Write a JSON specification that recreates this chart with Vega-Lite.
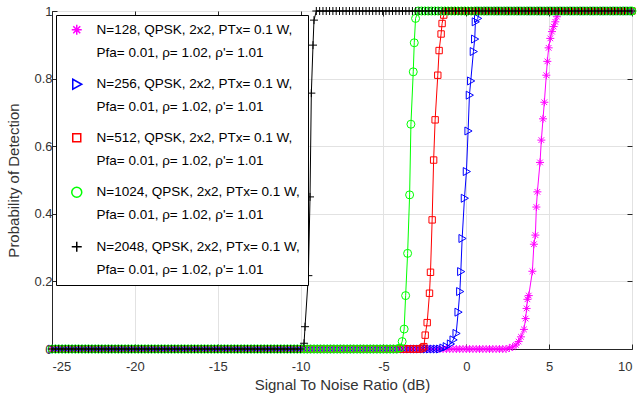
{
"$schema": "https://vega.github.io/schema/vega-lite/v6.json",
"width": 580, "height": 338,
"autosize": {"type": "none"},
"padding": {"left": 52, "top": 11, "right": 6, "bottom": 58},
"background": "white",
"config": {
  "font": "Liberation Sans",
  "view": {"stroke": "#262626", "strokeWidth": 1},
  "axis": {"labelOverlap": false}
},
"data": {"values": [
{"N":128,"x":-25,"y":0},{"N":128,"x":-24.8,"y":0},{"N":128,"x":-24.6,"y":0},{"N":128,"x":-24.4,"y":0},{"N":128,"x":-24.2,"y":0},{"N":128,"x":-24,"y":0},{"N":128,"x":-23.8,"y":0},{"N":128,"x":-23.6,"y":0},{"N":128,"x":-23.4,"y":0},{"N":128,"x":-23.2,"y":0},{"N":128,"x":-23,"y":0},{"N":128,"x":-22.8,"y":0},{"N":128,"x":-22.6,"y":0},{"N":128,"x":-22.4,"y":0},{"N":128,"x":-22.2,"y":0},{"N":128,"x":-22,"y":0},{"N":128,"x":-21.8,"y":0},{"N":128,"x":-21.6,"y":0},{"N":128,"x":-21.4,"y":0},{"N":128,"x":-21.2,"y":0},{"N":128,"x":-21,"y":0},{"N":128,"x":-20.8,"y":0},{"N":128,"x":-20.6,"y":0},{"N":128,"x":-20.4,"y":0},{"N":128,"x":-20.2,"y":0},{"N":128,"x":-20,"y":0},{"N":128,"x":-19.8,"y":0},{"N":128,"x":-19.6,"y":0},{"N":128,"x":-19.4,"y":0},{"N":128,"x":-19.2,"y":0},{"N":128,"x":-19,"y":0},{"N":128,"x":-18.8,"y":0},{"N":128,"x":-18.6,"y":0},{"N":128,"x":-18.4,"y":0},{"N":128,"x":-18.2,"y":0},{"N":128,"x":-18,"y":0},{"N":128,"x":-17.8,"y":0},{"N":128,"x":-17.6,"y":0},{"N":128,"x":-17.4,"y":0},{"N":128,"x":-17.2,"y":0},{"N":128,"x":-17,"y":0},{"N":128,"x":-16.8,"y":0},{"N":128,"x":-16.6,"y":0},{"N":128,"x":-16.4,"y":0},{"N":128,"x":-16.2,"y":0},{"N":128,"x":-16,"y":0},{"N":128,"x":-15.8,"y":0},{"N":128,"x":-15.6,"y":0},{"N":128,"x":-15.4,"y":0},{"N":128,"x":-15.2,"y":0},{"N":128,"x":-15,"y":0},{"N":128,"x":-14.8,"y":0},{"N":128,"x":-14.6,"y":0},{"N":128,"x":-14.4,"y":0},{"N":128,"x":-14.2,"y":0},{"N":128,"x":-14,"y":0},{"N":128,"x":-13.8,"y":0},{"N":128,"x":-13.6,"y":0},{"N":128,"x":-13.4,"y":0},{"N":128,"x":-13.2,"y":0},{"N":128,"x":-13,"y":0},{"N":128,"x":-12.8,"y":0},{"N":128,"x":-12.6,"y":0},{"N":128,"x":-12.4,"y":0},{"N":128,"x":-12.2,"y":0},{"N":128,"x":-12,"y":0},{"N":128,"x":-11.8,"y":0},{"N":128,"x":-11.6,"y":0},{"N":128,"x":-11.4,"y":0},{"N":128,"x":-11.2,"y":0},{"N":128,"x":-11,"y":0},{"N":128,"x":-10.8,"y":0},{"N":128,"x":-10.6,"y":0},{"N":128,"x":-10.4,"y":0},{"N":128,"x":-10.2,"y":0},{"N":128,"x":-10,"y":0},{"N":128,"x":-9.8,"y":0},{"N":128,"x":-9.6,"y":0},{"N":128,"x":-9.4,"y":0},{"N":128,"x":-9.2,"y":0},{"N":128,"x":-9,"y":0},{"N":128,"x":-8.8,"y":0},{"N":128,"x":-8.6,"y":0},{"N":128,"x":-8.4,"y":0},{"N":128,"x":-8.2,"y":0},{"N":128,"x":-8,"y":0},{"N":128,"x":-7.8,"y":0},{"N":128,"x":-7.6,"y":0},{"N":128,"x":-7.4,"y":0},{"N":128,"x":-7.2,"y":0},{"N":128,"x":-7,"y":0},{"N":128,"x":-6.8,"y":0},{"N":128,"x":-6.6,"y":0},{"N":128,"x":-6.4,"y":0},{"N":128,"x":-6.2,"y":0},{"N":128,"x":-6,"y":0},{"N":128,"x":-5.8,"y":0},{"N":128,"x":-5.6,"y":0},{"N":128,"x":-5.4,"y":0},{"N":128,"x":-5.2,"y":0},{"N":128,"x":-5,"y":0},{"N":128,"x":-4.8,"y":0},{"N":128,"x":-4.6,"y":0},{"N":128,"x":-4.4,"y":0},{"N":128,"x":-4.2,"y":0},{"N":128,"x":-4,"y":0},{"N":128,"x":-3.8,"y":0},{"N":128,"x":-3.6,"y":0},{"N":128,"x":-3.4,"y":0},{"N":128,"x":-3.2,"y":0},{"N":128,"x":-3,"y":0},{"N":128,"x":-2.8,"y":0},{"N":128,"x":-2.6,"y":0},{"N":128,"x":-2.4,"y":0},{"N":128,"x":-2.2,"y":0},{"N":128,"x":-2,"y":0},{"N":128,"x":-1.8,"y":0},{"N":128,"x":-1.6,"y":0},{"N":128,"x":-1.4,"y":0},{"N":128,"x":-1.2,"y":0},{"N":128,"x":-1,"y":0},{"N":128,"x":-0.8,"y":0},{"N":128,"x":-0.6,"y":0},{"N":128,"x":-0.4,"y":0},{"N":128,"x":-0.2,"y":0},{"N":128,"x":0,"y":0},{"N":128,"x":0.2,"y":0},{"N":128,"x":0.4,"y":0},{"N":128,"x":0.6,"y":0},{"N":128,"x":0.8,"y":0},{"N":128,"x":1,"y":0},{"N":128,"x":1.2,"y":0},{"N":128,"x":1.4,"y":0},{"N":128,"x":1.6,"y":0},{"N":128,"x":1.8,"y":0},{"N":128,"x":2,"y":0},{"N":128,"x":2.2,"y":0},{"N":128,"x":2.4,"y":0},{"N":128,"x":2.6,"y":0.003},{"N":128,"x":2.8,"y":0.006},{"N":128,"x":3,"y":0.012},{"N":128,"x":3.16,"y":0.022},{"N":128,"x":3.3,"y":0.036},{"N":128,"x":3.48,"y":0.058},{"N":128,"x":3.58,"y":0.09},{"N":128,"x":3.64,"y":0.12},{"N":128,"x":3.69,"y":0.147},{"N":128,"x":3.77,"y":0.158},{"N":128,"x":3.99,"y":0.23},{"N":128,"x":4.08,"y":0.31},{"N":128,"x":4.17,"y":0.337},{"N":128,"x":4.23,"y":0.42},{"N":128,"x":4.29,"y":0.465},{"N":128,"x":4.45,"y":0.552},{"N":128,"x":4.53,"y":0.618},{"N":128,"x":4.63,"y":0.681},{"N":128,"x":4.71,"y":0.73},{"N":128,"x":4.83,"y":0.81},{"N":128,"x":4.89,"y":0.851},{"N":128,"x":4.97,"y":0.891},{"N":128,"x":5.07,"y":0.919},{"N":128,"x":5.17,"y":0.939},{"N":128,"x":5.27,"y":0.954},{"N":128,"x":5.37,"y":0.968},{"N":128,"x":5.47,"y":0.983},{"N":128,"x":5.6,"y":1},{"N":128,"x":5.8,"y":1},{"N":128,"x":6,"y":1},{"N":128,"x":6.2,"y":1},{"N":128,"x":6.4,"y":1},{"N":128,"x":6.6,"y":1},{"N":128,"x":6.8,"y":1},{"N":128,"x":7,"y":1},{"N":128,"x":7.2,"y":1},{"N":128,"x":7.4,"y":1},{"N":128,"x":7.6,"y":1},{"N":128,"x":7.8,"y":1},{"N":128,"x":8,"y":1},{"N":128,"x":8.2,"y":1},{"N":128,"x":8.4,"y":1},{"N":128,"x":8.6,"y":1},{"N":128,"x":8.8,"y":1},{"N":128,"x":9,"y":1},{"N":128,"x":9.2,"y":1},{"N":128,"x":9.4,"y":1},{"N":128,"x":9.6,"y":1},{"N":128,"x":9.8,"y":1},{"N":128,"x":10,"y":1},
{"N":256,"x":-25,"y":0},{"N":256,"x":-24.8,"y":0},{"N":256,"x":-24.6,"y":0},{"N":256,"x":-24.4,"y":0},{"N":256,"x":-24.2,"y":0},{"N":256,"x":-24,"y":0},{"N":256,"x":-23.8,"y":0},{"N":256,"x":-23.6,"y":0},{"N":256,"x":-23.4,"y":0},{"N":256,"x":-23.2,"y":0},{"N":256,"x":-23,"y":0},{"N":256,"x":-22.8,"y":0},{"N":256,"x":-22.6,"y":0},{"N":256,"x":-22.4,"y":0},{"N":256,"x":-22.2,"y":0},{"N":256,"x":-22,"y":0},{"N":256,"x":-21.8,"y":0},{"N":256,"x":-21.6,"y":0},{"N":256,"x":-21.4,"y":0},{"N":256,"x":-21.2,"y":0},{"N":256,"x":-21,"y":0},{"N":256,"x":-20.8,"y":0},{"N":256,"x":-20.6,"y":0},{"N":256,"x":-20.4,"y":0},{"N":256,"x":-20.2,"y":0},{"N":256,"x":-20,"y":0},{"N":256,"x":-19.8,"y":0},{"N":256,"x":-19.6,"y":0},{"N":256,"x":-19.4,"y":0},{"N":256,"x":-19.2,"y":0},{"N":256,"x":-19,"y":0},{"N":256,"x":-18.8,"y":0},{"N":256,"x":-18.6,"y":0},{"N":256,"x":-18.4,"y":0},{"N":256,"x":-18.2,"y":0},{"N":256,"x":-18,"y":0},{"N":256,"x":-17.8,"y":0},{"N":256,"x":-17.6,"y":0},{"N":256,"x":-17.4,"y":0},{"N":256,"x":-17.2,"y":0},{"N":256,"x":-17,"y":0},{"N":256,"x":-16.8,"y":0},{"N":256,"x":-16.6,"y":0},{"N":256,"x":-16.4,"y":0},{"N":256,"x":-16.2,"y":0},{"N":256,"x":-16,"y":0},{"N":256,"x":-15.8,"y":0},{"N":256,"x":-15.6,"y":0},{"N":256,"x":-15.4,"y":0},{"N":256,"x":-15.2,"y":0},{"N":256,"x":-15,"y":0},{"N":256,"x":-14.8,"y":0},{"N":256,"x":-14.6,"y":0},{"N":256,"x":-14.4,"y":0},{"N":256,"x":-14.2,"y":0},{"N":256,"x":-14,"y":0},{"N":256,"x":-13.8,"y":0},{"N":256,"x":-13.6,"y":0},{"N":256,"x":-13.4,"y":0},{"N":256,"x":-13.2,"y":0},{"N":256,"x":-13,"y":0},{"N":256,"x":-12.8,"y":0},{"N":256,"x":-12.6,"y":0},{"N":256,"x":-12.4,"y":0},{"N":256,"x":-12.2,"y":0},{"N":256,"x":-12,"y":0},{"N":256,"x":-11.8,"y":0},{"N":256,"x":-11.6,"y":0},{"N":256,"x":-11.4,"y":0},{"N":256,"x":-11.2,"y":0},{"N":256,"x":-11,"y":0},{"N":256,"x":-10.8,"y":0},{"N":256,"x":-10.6,"y":0},{"N":256,"x":-10.4,"y":0},{"N":256,"x":-10.2,"y":0},{"N":256,"x":-10,"y":0},{"N":256,"x":-9.8,"y":0},{"N":256,"x":-9.6,"y":0},{"N":256,"x":-9.4,"y":0},{"N":256,"x":-9.2,"y":0},{"N":256,"x":-9,"y":0},{"N":256,"x":-8.8,"y":0},{"N":256,"x":-8.6,"y":0},{"N":256,"x":-8.4,"y":0},{"N":256,"x":-8.2,"y":0},{"N":256,"x":-8,"y":0},{"N":256,"x":-7.8,"y":0},{"N":256,"x":-7.6,"y":0},{"N":256,"x":-7.4,"y":0},{"N":256,"x":-7.2,"y":0},{"N":256,"x":-7,"y":0},{"N":256,"x":-6.8,"y":0},{"N":256,"x":-6.6,"y":0},{"N":256,"x":-6.4,"y":0},{"N":256,"x":-6.2,"y":0},{"N":256,"x":-6,"y":0},{"N":256,"x":-5.8,"y":0},{"N":256,"x":-5.6,"y":0},{"N":256,"x":-5.4,"y":0},{"N":256,"x":-5.2,"y":0},{"N":256,"x":-5,"y":0},{"N":256,"x":-4.8,"y":0},{"N":256,"x":-4.6,"y":0},{"N":256,"x":-4.4,"y":0},{"N":256,"x":-4.2,"y":0},{"N":256,"x":-4,"y":0},{"N":256,"x":-3.8,"y":0},{"N":256,"x":-3.6,"y":0},{"N":256,"x":-3.4,"y":0},{"N":256,"x":-3.2,"y":0},{"N":256,"x":-3,"y":0},{"N":256,"x":-2.8,"y":0},{"N":256,"x":-2.6,"y":0},{"N":256,"x":-2.4,"y":0},{"N":256,"x":-2.2,"y":0},{"N":256,"x":-2,"y":0},{"N":256,"x":-1.8,"y":0},{"N":256,"x":-1.6,"y":0},{"N":256,"x":-1.4,"y":0.003},{"N":256,"x":-1.2,"y":0.007},{"N":256,"x":-0.95,"y":0.015},{"N":256,"x":-0.79,"y":0.027},{"N":256,"x":-0.61,"y":0.046},{"N":256,"x":-0.49,"y":0.109},{"N":256,"x":-0.39,"y":0.17},{"N":256,"x":-0.33,"y":0.229},{"N":256,"x":-0.25,"y":0.327},{"N":256,"x":-0.11,"y":0.446},{"N":256,"x":0.01,"y":0.525},{"N":256,"x":0.11,"y":0.645},{"N":256,"x":0.19,"y":0.751},{"N":256,"x":0.27,"y":0.793},{"N":256,"x":0.43,"y":0.88},{"N":256,"x":0.51,"y":0.917},{"N":256,"x":0.55,"y":0.968},{"N":256,"x":0.69,"y":0.978},{"N":256,"x":0.8,"y":1},{"N":256,"x":1,"y":1},{"N":256,"x":1.2,"y":1},{"N":256,"x":1.4,"y":1},{"N":256,"x":1.6,"y":1},{"N":256,"x":1.8,"y":1},{"N":256,"x":2,"y":1},{"N":256,"x":2.2,"y":1},{"N":256,"x":2.4,"y":1},{"N":256,"x":2.6,"y":1},{"N":256,"x":2.8,"y":1},{"N":256,"x":3,"y":1},{"N":256,"x":3.2,"y":1},{"N":256,"x":3.4,"y":1},{"N":256,"x":3.6,"y":1},{"N":256,"x":3.8,"y":1},{"N":256,"x":4,"y":1},{"N":256,"x":4.2,"y":1},{"N":256,"x":4.4,"y":1},{"N":256,"x":4.6,"y":1},{"N":256,"x":4.8,"y":1},{"N":256,"x":5,"y":1},{"N":256,"x":5.2,"y":1},{"N":256,"x":5.4,"y":1},{"N":256,"x":5.6,"y":1},{"N":256,"x":5.8,"y":1},{"N":256,"x":6,"y":1},{"N":256,"x":6.2,"y":1},{"N":256,"x":6.4,"y":1},{"N":256,"x":6.6,"y":1},{"N":256,"x":6.8,"y":1},{"N":256,"x":7,"y":1},{"N":256,"x":7.2,"y":1},{"N":256,"x":7.4,"y":1},{"N":256,"x":7.6,"y":1},{"N":256,"x":7.8,"y":1},{"N":256,"x":8,"y":1},{"N":256,"x":8.2,"y":1},{"N":256,"x":8.4,"y":1},{"N":256,"x":8.6,"y":1},{"N":256,"x":8.8,"y":1},{"N":256,"x":9,"y":1},{"N":256,"x":9.2,"y":1},{"N":256,"x":9.4,"y":1},{"N":256,"x":9.6,"y":1},{"N":256,"x":9.8,"y":1},{"N":256,"x":10,"y":1},
{"N":512,"x":-25,"y":0},{"N":512,"x":-24.8,"y":0},{"N":512,"x":-24.6,"y":0},{"N":512,"x":-24.4,"y":0},{"N":512,"x":-24.2,"y":0},{"N":512,"x":-24,"y":0},{"N":512,"x":-23.8,"y":0},{"N":512,"x":-23.6,"y":0},{"N":512,"x":-23.4,"y":0},{"N":512,"x":-23.2,"y":0},{"N":512,"x":-23,"y":0},{"N":512,"x":-22.8,"y":0},{"N":512,"x":-22.6,"y":0},{"N":512,"x":-22.4,"y":0},{"N":512,"x":-22.2,"y":0},{"N":512,"x":-22,"y":0},{"N":512,"x":-21.8,"y":0},{"N":512,"x":-21.6,"y":0},{"N":512,"x":-21.4,"y":0},{"N":512,"x":-21.2,"y":0},{"N":512,"x":-21,"y":0},{"N":512,"x":-20.8,"y":0},{"N":512,"x":-20.6,"y":0},{"N":512,"x":-20.4,"y":0},{"N":512,"x":-20.2,"y":0},{"N":512,"x":-20,"y":0},{"N":512,"x":-19.8,"y":0},{"N":512,"x":-19.6,"y":0},{"N":512,"x":-19.4,"y":0},{"N":512,"x":-19.2,"y":0},{"N":512,"x":-19,"y":0},{"N":512,"x":-18.8,"y":0},{"N":512,"x":-18.6,"y":0},{"N":512,"x":-18.4,"y":0},{"N":512,"x":-18.2,"y":0},{"N":512,"x":-18,"y":0},{"N":512,"x":-17.8,"y":0},{"N":512,"x":-17.6,"y":0},{"N":512,"x":-17.4,"y":0},{"N":512,"x":-17.2,"y":0},{"N":512,"x":-17,"y":0},{"N":512,"x":-16.8,"y":0},{"N":512,"x":-16.6,"y":0},{"N":512,"x":-16.4,"y":0},{"N":512,"x":-16.2,"y":0},{"N":512,"x":-16,"y":0},{"N":512,"x":-15.8,"y":0},{"N":512,"x":-15.6,"y":0},{"N":512,"x":-15.4,"y":0},{"N":512,"x":-15.2,"y":0},{"N":512,"x":-15,"y":0},{"N":512,"x":-14.8,"y":0},{"N":512,"x":-14.6,"y":0},{"N":512,"x":-14.4,"y":0},{"N":512,"x":-14.2,"y":0},{"N":512,"x":-14,"y":0},{"N":512,"x":-13.8,"y":0},{"N":512,"x":-13.6,"y":0},{"N":512,"x":-13.4,"y":0},{"N":512,"x":-13.2,"y":0},{"N":512,"x":-13,"y":0},{"N":512,"x":-12.8,"y":0},{"N":512,"x":-12.6,"y":0},{"N":512,"x":-12.4,"y":0},{"N":512,"x":-12.2,"y":0},{"N":512,"x":-12,"y":0},{"N":512,"x":-11.8,"y":0},{"N":512,"x":-11.6,"y":0},{"N":512,"x":-11.4,"y":0},{"N":512,"x":-11.2,"y":0},{"N":512,"x":-11,"y":0},{"N":512,"x":-10.8,"y":0},{"N":512,"x":-10.6,"y":0},{"N":512,"x":-10.4,"y":0},{"N":512,"x":-10.2,"y":0},{"N":512,"x":-10,"y":0},{"N":512,"x":-9.8,"y":0},{"N":512,"x":-9.6,"y":0},{"N":512,"x":-9.4,"y":0},{"N":512,"x":-9.2,"y":0},{"N":512,"x":-9,"y":0},{"N":512,"x":-8.8,"y":0},{"N":512,"x":-8.6,"y":0},{"N":512,"x":-8.4,"y":0},{"N":512,"x":-8.2,"y":0},{"N":512,"x":-8,"y":0},{"N":512,"x":-7.8,"y":0},{"N":512,"x":-7.6,"y":0},{"N":512,"x":-7.4,"y":0},{"N":512,"x":-7.2,"y":0},{"N":512,"x":-7,"y":0},{"N":512,"x":-6.8,"y":0},{"N":512,"x":-6.6,"y":0},{"N":512,"x":-6.4,"y":0},{"N":512,"x":-6.2,"y":0},{"N":512,"x":-6,"y":0},{"N":512,"x":-5.8,"y":0},{"N":512,"x":-5.6,"y":0},{"N":512,"x":-5.4,"y":0},{"N":512,"x":-5.2,"y":0},{"N":512,"x":-5,"y":0},{"N":512,"x":-4.8,"y":0},{"N":512,"x":-4.6,"y":0},{"N":512,"x":-4.4,"y":0},{"N":512,"x":-4.2,"y":0},{"N":512,"x":-4,"y":0},{"N":512,"x":-3.8,"y":0},{"N":512,"x":-3.6,"y":0},{"N":512,"x":-3.4,"y":0},{"N":512,"x":-3.2,"y":0},{"N":512,"x":-3,"y":0},{"N":512,"x":-2.8,"y":0},{"N":512,"x":-2.65,"y":0.003},{"N":512,"x":-2.56,"y":0.007},{"N":512,"x":-2.48,"y":0.041},{"N":512,"x":-2.36,"y":0.078},{"N":512,"x":-2.22,"y":0.165},{"N":512,"x":-2.16,"y":0.227},{"N":512,"x":-2.06,"y":0.382},{"N":512,"x":-1.97,"y":0.559},{"N":512,"x":-1.88,"y":0.678},{"N":512,"x":-1.72,"y":0.81},{"N":512,"x":-1.64,"y":0.883},{"N":512,"x":-1.52,"y":0.932},{"N":512,"x":-1.46,"y":0.963},{"N":512,"x":-1.36,"y":0.988},{"N":512,"x":-1.2,"y":1},{"N":512,"x":-1,"y":1},{"N":512,"x":-0.8,"y":1},{"N":512,"x":-0.6,"y":1},{"N":512,"x":-0.4,"y":1},{"N":512,"x":-0.2,"y":1},{"N":512,"x":0,"y":1},{"N":512,"x":0.2,"y":1},{"N":512,"x":0.4,"y":1},{"N":512,"x":0.6,"y":1},{"N":512,"x":0.8,"y":1},{"N":512,"x":1,"y":1},{"N":512,"x":1.2,"y":1},{"N":512,"x":1.4,"y":1},{"N":512,"x":1.6,"y":1},{"N":512,"x":1.8,"y":1},{"N":512,"x":2,"y":1},{"N":512,"x":2.2,"y":1},{"N":512,"x":2.4,"y":1},{"N":512,"x":2.6,"y":1},{"N":512,"x":2.8,"y":1},{"N":512,"x":3,"y":1},{"N":512,"x":3.2,"y":1},{"N":512,"x":3.4,"y":1},{"N":512,"x":3.6,"y":1},{"N":512,"x":3.8,"y":1},{"N":512,"x":4,"y":1},{"N":512,"x":4.2,"y":1},{"N":512,"x":4.4,"y":1},{"N":512,"x":4.6,"y":1},{"N":512,"x":4.8,"y":1},{"N":512,"x":5,"y":1},{"N":512,"x":5.2,"y":1},{"N":512,"x":5.4,"y":1},{"N":512,"x":5.6,"y":1},{"N":512,"x":5.8,"y":1},{"N":512,"x":6,"y":1},{"N":512,"x":6.2,"y":1},{"N":512,"x":6.4,"y":1},{"N":512,"x":6.6,"y":1},{"N":512,"x":6.8,"y":1},{"N":512,"x":7,"y":1},{"N":512,"x":7.2,"y":1},{"N":512,"x":7.4,"y":1},{"N":512,"x":7.6,"y":1},{"N":512,"x":7.8,"y":1},{"N":512,"x":8,"y":1},{"N":512,"x":8.2,"y":1},{"N":512,"x":8.4,"y":1},{"N":512,"x":8.6,"y":1},{"N":512,"x":8.8,"y":1},{"N":512,"x":9,"y":1},{"N":512,"x":9.2,"y":1},{"N":512,"x":9.4,"y":1},{"N":512,"x":9.6,"y":1},{"N":512,"x":9.8,"y":1},{"N":512,"x":10,"y":1},
{"N":1024,"x":-25,"y":0},{"N":1024,"x":-24.8,"y":0},{"N":1024,"x":-24.6,"y":0},{"N":1024,"x":-24.4,"y":0},{"N":1024,"x":-24.2,"y":0},{"N":1024,"x":-24,"y":0},{"N":1024,"x":-23.8,"y":0},{"N":1024,"x":-23.6,"y":0},{"N":1024,"x":-23.4,"y":0},{"N":1024,"x":-23.2,"y":0},{"N":1024,"x":-23,"y":0},{"N":1024,"x":-22.8,"y":0},{"N":1024,"x":-22.6,"y":0},{"N":1024,"x":-22.4,"y":0},{"N":1024,"x":-22.2,"y":0},{"N":1024,"x":-22,"y":0},{"N":1024,"x":-21.8,"y":0},{"N":1024,"x":-21.6,"y":0},{"N":1024,"x":-21.4,"y":0},{"N":1024,"x":-21.2,"y":0},{"N":1024,"x":-21,"y":0},{"N":1024,"x":-20.8,"y":0},{"N":1024,"x":-20.6,"y":0},{"N":1024,"x":-20.4,"y":0},{"N":1024,"x":-20.2,"y":0},{"N":1024,"x":-20,"y":0},{"N":1024,"x":-19.8,"y":0},{"N":1024,"x":-19.6,"y":0},{"N":1024,"x":-19.4,"y":0},{"N":1024,"x":-19.2,"y":0},{"N":1024,"x":-19,"y":0},{"N":1024,"x":-18.8,"y":0},{"N":1024,"x":-18.6,"y":0},{"N":1024,"x":-18.4,"y":0},{"N":1024,"x":-18.2,"y":0},{"N":1024,"x":-18,"y":0},{"N":1024,"x":-17.8,"y":0},{"N":1024,"x":-17.6,"y":0},{"N":1024,"x":-17.4,"y":0},{"N":1024,"x":-17.2,"y":0},{"N":1024,"x":-17,"y":0},{"N":1024,"x":-16.8,"y":0},{"N":1024,"x":-16.6,"y":0},{"N":1024,"x":-16.4,"y":0},{"N":1024,"x":-16.2,"y":0},{"N":1024,"x":-16,"y":0},{"N":1024,"x":-15.8,"y":0},{"N":1024,"x":-15.6,"y":0},{"N":1024,"x":-15.4,"y":0},{"N":1024,"x":-15.2,"y":0},{"N":1024,"x":-15,"y":0},{"N":1024,"x":-14.8,"y":0},{"N":1024,"x":-14.6,"y":0},{"N":1024,"x":-14.4,"y":0},{"N":1024,"x":-14.2,"y":0},{"N":1024,"x":-14,"y":0},{"N":1024,"x":-13.8,"y":0},{"N":1024,"x":-13.6,"y":0},{"N":1024,"x":-13.4,"y":0},{"N":1024,"x":-13.2,"y":0},{"N":1024,"x":-13,"y":0},{"N":1024,"x":-12.8,"y":0},{"N":1024,"x":-12.6,"y":0},{"N":1024,"x":-12.4,"y":0},{"N":1024,"x":-12.2,"y":0},{"N":1024,"x":-12,"y":0},{"N":1024,"x":-11.8,"y":0},{"N":1024,"x":-11.6,"y":0},{"N":1024,"x":-11.4,"y":0},{"N":1024,"x":-11.2,"y":0},{"N":1024,"x":-11,"y":0},{"N":1024,"x":-10.8,"y":0},{"N":1024,"x":-10.6,"y":0},{"N":1024,"x":-10.4,"y":0},{"N":1024,"x":-10.2,"y":0},{"N":1024,"x":-10,"y":0},{"N":1024,"x":-9.8,"y":0},{"N":1024,"x":-9.6,"y":0},{"N":1024,"x":-9.4,"y":0},{"N":1024,"x":-9.2,"y":0},{"N":1024,"x":-9,"y":0},{"N":1024,"x":-8.8,"y":0},{"N":1024,"x":-8.6,"y":0},{"N":1024,"x":-8.4,"y":0},{"N":1024,"x":-8.2,"y":0},{"N":1024,"x":-8,"y":0},{"N":1024,"x":-7.8,"y":0},{"N":1024,"x":-7.6,"y":0},{"N":1024,"x":-7.4,"y":0},{"N":1024,"x":-7.2,"y":0},{"N":1024,"x":-7,"y":0},{"N":1024,"x":-6.8,"y":0},{"N":1024,"x":-6.6,"y":0},{"N":1024,"x":-6.4,"y":0},{"N":1024,"x":-6.2,"y":0},{"N":1024,"x":-6,"y":0},{"N":1024,"x":-5.8,"y":0},{"N":1024,"x":-5.6,"y":0},{"N":1024,"x":-5.4,"y":0},{"N":1024,"x":-5.2,"y":0},{"N":1024,"x":-5,"y":0},{"N":1024,"x":-4.8,"y":0},{"N":1024,"x":-4.6,"y":0},{"N":1024,"x":-4.4,"y":0},{"N":1024,"x":-4.2,"y":0},{"N":1024,"x":-4,"y":0.003},{"N":1024,"x":-3.87,"y":0.022},{"N":1024,"x":-3.75,"y":0.059},{"N":1024,"x":-3.66,"y":0.158},{"N":1024,"x":-3.54,"y":0.283},{"N":1024,"x":-3.42,"y":0.456},{"N":1024,"x":-3.34,"y":0.665},{"N":1024,"x":-3.2,"y":0.82},{"N":1024,"x":-3.14,"y":0.906},{"N":1024,"x":-3.06,"y":0.978},{"N":1024,"x":-2.9,"y":1},{"N":1024,"x":-2.7,"y":1},{"N":1024,"x":-2.5,"y":1},{"N":1024,"x":-2.3,"y":1},{"N":1024,"x":-2.1,"y":1},{"N":1024,"x":-1.9,"y":1},{"N":1024,"x":-1.7,"y":1},{"N":1024,"x":-1.5,"y":1},{"N":1024,"x":-1.3,"y":1},{"N":1024,"x":-1.1,"y":1},{"N":1024,"x":-0.9,"y":1},{"N":1024,"x":-0.7,"y":1},{"N":1024,"x":-0.5,"y":1},{"N":1024,"x":-0.3,"y":1},{"N":1024,"x":-0.1,"y":1},{"N":1024,"x":0.1,"y":1},{"N":1024,"x":0.3,"y":1},{"N":1024,"x":0.5,"y":1},{"N":1024,"x":0.7,"y":1},{"N":1024,"x":0.9,"y":1},{"N":1024,"x":1.1,"y":1},{"N":1024,"x":1.3,"y":1},{"N":1024,"x":1.5,"y":1},{"N":1024,"x":1.7,"y":1},{"N":1024,"x":1.9,"y":1},{"N":1024,"x":2.1,"y":1},{"N":1024,"x":2.3,"y":1},{"N":1024,"x":2.5,"y":1},{"N":1024,"x":2.7,"y":1},{"N":1024,"x":2.9,"y":1},{"N":1024,"x":3.1,"y":1},{"N":1024,"x":3.3,"y":1},{"N":1024,"x":3.5,"y":1},{"N":1024,"x":3.7,"y":1},{"N":1024,"x":3.9,"y":1},{"N":1024,"x":4.1,"y":1},{"N":1024,"x":4.3,"y":1},{"N":1024,"x":4.5,"y":1},{"N":1024,"x":4.7,"y":1},{"N":1024,"x":4.9,"y":1},{"N":1024,"x":5.1,"y":1},{"N":1024,"x":5.3,"y":1},{"N":1024,"x":5.5,"y":1},{"N":1024,"x":5.7,"y":1},{"N":1024,"x":5.9,"y":1},{"N":1024,"x":6.1,"y":1},{"N":1024,"x":6.3,"y":1},{"N":1024,"x":6.5,"y":1},{"N":1024,"x":6.7,"y":1},{"N":1024,"x":6.9,"y":1},{"N":1024,"x":7.1,"y":1},{"N":1024,"x":7.3,"y":1},{"N":1024,"x":7.5,"y":1},{"N":1024,"x":7.7,"y":1},{"N":1024,"x":7.9,"y":1},{"N":1024,"x":8.1,"y":1},{"N":1024,"x":8.3,"y":1},{"N":1024,"x":8.5,"y":1},{"N":1024,"x":8.7,"y":1},{"N":1024,"x":8.9,"y":1},{"N":1024,"x":9.1,"y":1},{"N":1024,"x":9.3,"y":1},{"N":1024,"x":9.5,"y":1},{"N":1024,"x":9.7,"y":1},{"N":1024,"x":9.9,"y":1},{"N":1024,"x":10,"y":1},
{"N":2048,"x":-25,"y":0},{"N":2048,"x":-24.8,"y":0},{"N":2048,"x":-24.6,"y":0},{"N":2048,"x":-24.4,"y":0},{"N":2048,"x":-24.2,"y":0},{"N":2048,"x":-24,"y":0},{"N":2048,"x":-23.8,"y":0},{"N":2048,"x":-23.6,"y":0},{"N":2048,"x":-23.4,"y":0},{"N":2048,"x":-23.2,"y":0},{"N":2048,"x":-23,"y":0},{"N":2048,"x":-22.8,"y":0},{"N":2048,"x":-22.6,"y":0},{"N":2048,"x":-22.4,"y":0},{"N":2048,"x":-22.2,"y":0},{"N":2048,"x":-22,"y":0},{"N":2048,"x":-21.8,"y":0},{"N":2048,"x":-21.6,"y":0},{"N":2048,"x":-21.4,"y":0},{"N":2048,"x":-21.2,"y":0},{"N":2048,"x":-21,"y":0},{"N":2048,"x":-20.8,"y":0},{"N":2048,"x":-20.6,"y":0},{"N":2048,"x":-20.4,"y":0},{"N":2048,"x":-20.2,"y":0},{"N":2048,"x":-20,"y":0},{"N":2048,"x":-19.8,"y":0},{"N":2048,"x":-19.6,"y":0},{"N":2048,"x":-19.4,"y":0},{"N":2048,"x":-19.2,"y":0},{"N":2048,"x":-19,"y":0},{"N":2048,"x":-18.8,"y":0},{"N":2048,"x":-18.6,"y":0},{"N":2048,"x":-18.4,"y":0},{"N":2048,"x":-18.2,"y":0},{"N":2048,"x":-18,"y":0},{"N":2048,"x":-17.8,"y":0},{"N":2048,"x":-17.6,"y":0},{"N":2048,"x":-17.4,"y":0},{"N":2048,"x":-17.2,"y":0},{"N":2048,"x":-17,"y":0},{"N":2048,"x":-16.8,"y":0},{"N":2048,"x":-16.6,"y":0},{"N":2048,"x":-16.4,"y":0},{"N":2048,"x":-16.2,"y":0},{"N":2048,"x":-16,"y":0},{"N":2048,"x":-15.8,"y":0},{"N":2048,"x":-15.6,"y":0},{"N":2048,"x":-15.4,"y":0},{"N":2048,"x":-15.2,"y":0},{"N":2048,"x":-15,"y":0},{"N":2048,"x":-14.8,"y":0},{"N":2048,"x":-14.6,"y":0},{"N":2048,"x":-14.4,"y":0},{"N":2048,"x":-14.2,"y":0},{"N":2048,"x":-14,"y":0},{"N":2048,"x":-13.8,"y":0},{"N":2048,"x":-13.6,"y":0},{"N":2048,"x":-13.4,"y":0},{"N":2048,"x":-13.2,"y":0},{"N":2048,"x":-13,"y":0},{"N":2048,"x":-12.8,"y":0},{"N":2048,"x":-12.6,"y":0},{"N":2048,"x":-12.4,"y":0},{"N":2048,"x":-12.2,"y":0},{"N":2048,"x":-12,"y":0},{"N":2048,"x":-11.8,"y":0},{"N":2048,"x":-11.6,"y":0},{"N":2048,"x":-11.4,"y":0},{"N":2048,"x":-11.2,"y":0},{"N":2048,"x":-11,"y":0},{"N":2048,"x":-10.8,"y":0},{"N":2048,"x":-10.6,"y":0},{"N":2048,"x":-10.4,"y":0},{"N":2048,"x":-10.2,"y":0},{"N":2048,"x":-10,"y":0},{"N":2048,"x":-9.79,"y":0.017},{"N":2048,"x":-9.73,"y":0.066},{"N":2048,"x":-9.53,"y":0.217},{"N":2048,"x":-9.43,"y":0.45},{"N":2048,"x":-9.35,"y":0.757},{"N":2048,"x":-9.25,"y":0.899},{"N":2048,"x":-9.19,"y":0.973},{"N":2048,"x":-9.05,"y":1},{"N":2048,"x":-8.85,"y":1},{"N":2048,"x":-8.65,"y":1},{"N":2048,"x":-8.45,"y":1},{"N":2048,"x":-8.25,"y":1},{"N":2048,"x":-8.05,"y":1},{"N":2048,"x":-7.85,"y":1},{"N":2048,"x":-7.65,"y":1},{"N":2048,"x":-7.45,"y":1},{"N":2048,"x":-7.25,"y":1},{"N":2048,"x":-7.05,"y":1},{"N":2048,"x":-6.85,"y":1},{"N":2048,"x":-6.65,"y":1},{"N":2048,"x":-6.45,"y":1},{"N":2048,"x":-6.25,"y":1},{"N":2048,"x":-6.05,"y":1},{"N":2048,"x":-5.85,"y":1},{"N":2048,"x":-5.65,"y":1},{"N":2048,"x":-5.45,"y":1},{"N":2048,"x":-5.25,"y":1},{"N":2048,"x":-5.05,"y":1},{"N":2048,"x":-4.85,"y":1},{"N":2048,"x":-4.65,"y":1},{"N":2048,"x":-4.45,"y":1},{"N":2048,"x":-4.25,"y":1},{"N":2048,"x":-4.05,"y":1},{"N":2048,"x":-3.85,"y":1},{"N":2048,"x":-3.65,"y":1},{"N":2048,"x":-3.45,"y":1},{"N":2048,"x":-3.25,"y":1},{"N":2048,"x":-3.05,"y":1},{"N":2048,"x":-2.85,"y":1},{"N":2048,"x":-2.65,"y":1},{"N":2048,"x":-2.45,"y":1},{"N":2048,"x":-2.25,"y":1},{"N":2048,"x":-2.05,"y":1},{"N":2048,"x":-1.85,"y":1},{"N":2048,"x":-1.65,"y":1},{"N":2048,"x":-1.45,"y":1},{"N":2048,"x":-1.25,"y":1},{"N":2048,"x":-1.05,"y":1},{"N":2048,"x":-0.85,"y":1},{"N":2048,"x":-0.65,"y":1},{"N":2048,"x":-0.45,"y":1},{"N":2048,"x":-0.25,"y":1},{"N":2048,"x":-0.05,"y":1},{"N":2048,"x":0.15,"y":1},{"N":2048,"x":0.35,"y":1},{"N":2048,"x":0.55,"y":1},{"N":2048,"x":0.75,"y":1},{"N":2048,"x":0.95,"y":1},{"N":2048,"x":1.15,"y":1},{"N":2048,"x":1.35,"y":1},{"N":2048,"x":1.55,"y":1},{"N":2048,"x":1.75,"y":1},{"N":2048,"x":1.95,"y":1},{"N":2048,"x":2.15,"y":1},{"N":2048,"x":2.35,"y":1},{"N":2048,"x":2.55,"y":1},{"N":2048,"x":2.75,"y":1},{"N":2048,"x":2.95,"y":1},{"N":2048,"x":3.15,"y":1},{"N":2048,"x":3.35,"y":1},{"N":2048,"x":3.55,"y":1},{"N":2048,"x":3.75,"y":1},{"N":2048,"x":3.95,"y":1},{"N":2048,"x":4.15,"y":1},{"N":2048,"x":4.35,"y":1},{"N":2048,"x":4.55,"y":1},{"N":2048,"x":4.75,"y":1},{"N":2048,"x":4.95,"y":1},{"N":2048,"x":5.15,"y":1},{"N":2048,"x":5.35,"y":1},{"N":2048,"x":5.55,"y":1},{"N":2048,"x":5.75,"y":1},{"N":2048,"x":5.95,"y":1},{"N":2048,"x":6.15,"y":1},{"N":2048,"x":6.35,"y":1},{"N":2048,"x":6.55,"y":1},{"N":2048,"x":6.75,"y":1},{"N":2048,"x":6.95,"y":1},{"N":2048,"x":7.15,"y":1},{"N":2048,"x":7.35,"y":1},{"N":2048,"x":7.55,"y":1},{"N":2048,"x":7.75,"y":1},{"N":2048,"x":7.95,"y":1},{"N":2048,"x":8.15,"y":1},{"N":2048,"x":8.35,"y":1},{"N":2048,"x":8.55,"y":1},{"N":2048,"x":8.75,"y":1},{"N":2048,"x":8.95,"y":1},{"N":2048,"x":9.15,"y":1},{"N":2048,"x":9.35,"y":1},{"N":2048,"x":9.55,"y":1},{"N":2048,"x":9.75,"y":1},{"N":2048,"x":9.95,"y":1}
]},
"layer": [
  {
    "mark": {"type": "line", "strokeWidth": 1, "clip": false},
    "encoding": {
      "x": {"field": "x", "type": "quantitative",
        "scale": {"domain": [-25, 10], "nice": false, "zero": false},
        "axis": {"values": [-25, -20, -15, -10, -5, 0, 5, 10], "labelExpr": "'' + datum.value",
          "title": "Signal To Noise Ratio (dB)", "grid": true, "gridColor": "#e2e2e2",
          "tickSize": -5, "tickColor": "#262626", "domainColor": "#262626",
          "labelFontSize": 13, "labelColor": "#333333", "labelPadding": 16,
          "titleFontSize": 15, "titleFontWeight": "normal", "titleColor": "#333333", "titlePadding": 4}},
      "y": {"field": "y", "type": "quantitative",
        "scale": {"domain": [0, 1], "nice": false},
        "axis": {"values": [0, 0.2, 0.4, 0.6, 0.8, 1], "labelExpr": "'' + datum.value", "labelOverlap": false, "labelFlush": false,
          "title": "Probability of Detection", "grid": true, "gridColor": "#e2e2e2",
          "tickSize": -5, "tickColor": "#262626", "domainColor": "#262626",
          "labelFontSize": 13, "labelColor": "#333333", "labelPadding": 5,
          "titleFontSize": 15, "titleFontWeight": "normal", "titleColor": "#333333", "titlePadding": 12}},
      "color": {"field": "N", "type": "nominal",
        "scale": {"domain": [128, 256, 512, 1024, 2048], "range": ["#ff00ff", "#0000ff", "#ff0000", "#00ff00", "#000000"]},
        "legend": {
          "orient": "top-left", "offset": 4, "title": null, "padding": 8,
          "strokeColor": "#000000", "fillColor": "#ffffff",
          "labelFontSize": 13.5, "labelColor": "#000000", "labelLimit": 0, "labelFont": "Liberation Sans",
          "rowPadding": 15.5, "symbolOffset": 6, "labelOffset": 13,
          "labelExpr": "['N=' + datum.label + ', QPSK, 2x2, PTx= 0.1 W,', \"Pfa= 0.01, ρ= 1.02, ρ'= 1.01\"]",
          "encode": {
            "labels": {"update": {"lineHeight": {"value": 23}}}
          }
        }}
    }
  },
  {
    "mark": {"type": "point", "filled": false, "size": 64, "strokeWidth": 1, "opacity": 1, "clip": false},
    "encoding": {
      "x": {"field": "x", "type": "quantitative", "axis": null},
      "y": {"field": "y", "type": "quantitative", "axis": null},
      "color": {"field": "N", "type": "nominal"},
      "shape": {"field": "N", "type": "nominal",
        "scale": {"domain": [128, 256, 512, 1024, 2048],
          "range": ["M-1,0H1M0,-1V1M-0.7,-0.7L0.7,0.7M-0.7,0.7L0.7,-0.7", "M-0.8,-1L1,0L-0.8,1Z", "M-0.8,-0.8H0.8V0.8H-0.8Z", "circle", "M-1,0H1M0,-1V1"]},
        "legend": null}
    }
  },
  {
    "data": {"values": [{"x": -25, "y": 0}]},
    "mark": {"type": "point", "opacity": 0},
    "encoding": {
      "x": {"field": "x", "type": "quantitative",
        "axis": {"orient": "top", "values": [-25, -20, -15, -10, -5, 0, 5, 10], "labels": false, "title": null, "grid": false, "domain": false, "tickSize": -5, "tickColor": "#262626"}},
      "y": {"field": "y", "type": "quantitative",
        "axis": {"orient": "right", "values": [0, 0.2, 0.4, 0.6, 0.8, 1], "labels": false, "title": null, "grid": false, "domain": false, "tickSize": -5, "tickColor": "#262626"}}
    }
  }
],
"resolve": {"axis": {"x": "independent", "y": "independent"}}
}
